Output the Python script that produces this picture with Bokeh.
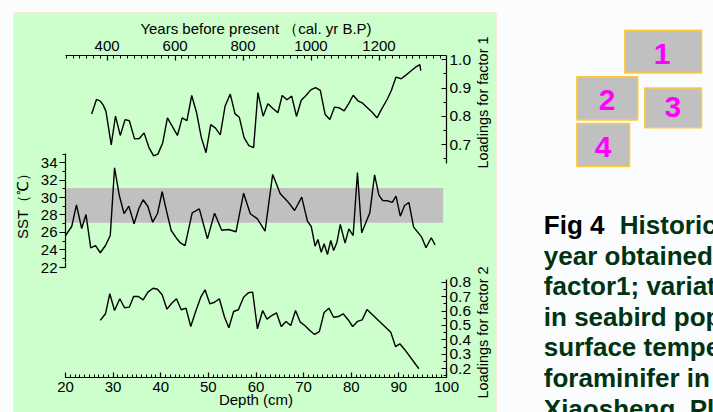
import math
from bokeh.plotting import figure
from bokeh.models import Range1d, LinearAxis, FixedTicker, PrintfTickFormatter, BoxAnnotation
from bokeh.layouts import row, column
from bokeh.embed import file_html
from bokeh.resources import INLINE
from bokeh.core.properties import value

# ---------------- data ----------------
f1_depth = [25.5, 26.5, 27.3, 27.9, 28.5, 29.6, 30.5, 31.5, 32.5, 33.4, 34.5, 35.5, 36.5, 37.5,
            38.5, 39.4, 40.4, 41.4, 42.4, 43.5, 44.5, 45.5, 46.5, 47.5, 48.5, 49.5, 50.5, 51.5,
            52.5, 53.5, 54.6, 55.6, 56.5, 57.5, 58.5, 59.5, 60.4, 61.5, 62.5, 63.5, 64.6, 65.5,
            66.5, 67.5, 68.5, 69.5, 70.5, 71.5, 72.5, 73.5, 74.5, 75.5, 76.5, 77.4, 78.5, 79.5,
            80.4, 81.5, 82.4, 83.5, 84.5, 85.4, 86.4, 87.5, 88.4, 89.4, 90.5, 91.4, 92.4, 93.5,
            94.4, 94.6]
f1_load = [0.809, 0.860, 0.854, 0.841, 0.818, 0.700, 0.801, 0.733, 0.789, 0.785, 0.721, 0.722,
           0.742, 0.691, 0.661, 0.667, 0.706, 0.795, 0.766, 0.733, 0.795, 0.785, 0.874, 0.815,
           0.727, 0.672, 0.771, 0.759, 0.735, 0.836, 0.879, 0.809, 0.797, 0.725, 0.697, 0.690,
           0.884, 0.801, 0.845, 0.829, 0.813, 0.874, 0.859, 0.872, 0.800, 0.857, 0.874, 0.894,
           0.902, 0.892, 0.808, 0.789, 0.833, 0.831, 0.820, 0.846, 0.875, 0.854, 0.847, 0.829,
           0.813, 0.795, 0.827, 0.859, 0.891, 0.939, 0.933, 0.945, 0.959, 0.974, 0.983, 0.962]

sst_depth = [20.0, 21.3, 22.3, 23.4, 24.3, 25.3, 26.3, 27.3, 28.4, 29.4, 30.3, 31.3, 32.3, 33.3,
             34.4, 35.4, 36.3, 37.3, 38.3, 39.3, 40.3, 41.3, 42.2, 43.3, 44.2, 45.1, 46.6, 48.1,
             49.8, 51.3, 52.8, 54.2, 55.8, 57.4, 58.8, 60.3, 61.9, 63.5, 65.1, 66.6, 68.1, 69.6,
             70.8, 71.6, 72.4, 73.0, 73.7, 74.3, 75.0, 75.7, 76.3, 77.0, 77.7, 78.7, 79.5, 80.4,
             81.3, 82.2, 83.9, 84.9, 85.8, 86.6, 87.7, 88.6, 89.4, 90.3, 91.2, 92.1, 93.1, 94.8,
             95.7, 96.8, 97.6]
sst_val = [25.64, 26.68, 29.17, 26.45, 28.06, 24.23, 24.49, 23.66, 24.49, 25.64, 33.43, 30.24,
           28.17, 29.01, 26.99, 28.75, 29.75, 28.98, 27.17, 28.14, 30.67, 28.25, 26.22, 25.33,
           24.76, 24.49, 28.25, 28.71, 25.26, 28.21, 26.25, 26.33, 26.07, 30.51, 28.14, 27.56,
           26.14, 32.66, 30.44, 29.59, 28.52, 30.05, 27.29, 26.68, 24.41, 25.18, 23.72, 24.69,
           23.46, 25.07, 23.92, 24.87, 26.91, 24.76, 26.41, 25.64, 32.89, 25.95, 28.25, 32.62,
           30.28, 29.67, 29.63, 29.44, 30.16, 27.86, 29.09, 29.44, 26.60, 25.45, 24.23, 25.38,
           24.57]
sst_band_low = 27.1
sst_band_high = 31.1

f2_depth = [27.3, 28.4, 29.3, 30.3, 31.4, 32.4, 33.4, 34.3, 35.3, 36.3, 37.3, 38.4, 39.3, 40.3,
            41.3, 42.3, 43.3, 44.3, 45.3, 46.3, 47.4, 48.4, 49.3, 50.3, 51.3, 52.3, 53.4, 54.3,
            55.3, 56.3, 57.4, 58.4, 59.3, 60.3, 61.4, 62.3, 63.3, 64.3, 65.3, 66.3, 67.3, 68.3,
            69.3, 70.3, 71.3, 72.3, 73.3, 74.3, 75.3, 76.3, 77.3, 78.3, 79.3, 80.3, 81.3, 82.3,
            83.3, 88.3, 89.3, 90.2, 91.2, 94.2]
f2_load = [0.535, 0.581, 0.720, 0.604, 0.685, 0.623, 0.627, 0.701, 0.701, 0.678, 0.731, 0.758,
           0.751, 0.713, 0.613, 0.654, 0.685, 0.609, 0.620, 0.493, 0.604, 0.696, 0.747, 0.650,
           0.661, 0.685, 0.557, 0.484, 0.597, 0.609, 0.696, 0.727, 0.731, 0.477, 0.604, 0.544,
           0.569, 0.588, 0.493, 0.528, 0.500, 0.604, 0.523, 0.498, 0.465, 0.438, 0.458, 0.590,
           0.620, 0.557, 0.562, 0.581, 0.542, 0.493, 0.528, 0.539, 0.611, 0.453, 0.354, 0.373,
           0.334, 0.200]

year_ticks = [400, 600, 800, 1000, 1200]
year_minor = list(range(280, 1400, 20))
depth_ticks = [20, 30, 40, 50, 60, 70, 80, 90, 100]
depth_minor = list(range(20, 101))
sst_ticks = [22, 24, 26, 28, 30, 32, 34]
sst_minor = list(range(22, 36))
f1_ticks = [0.7, 0.8, 0.9, 1.0]
f1_minor = [0.65, 0.7, 0.75, 0.8, 0.85, 0.9, 0.95, 1.0]
f2_ticks = [0.2, 0.3, 0.4, 0.5, 0.6, 0.7, 0.8]
f2_minor = [0.15, 0.2, 0.25, 0.3, 0.35, 0.4, 0.45, 0.5, 0.55, 0.6, 0.65, 0.7, 0.75, 0.8]

title_top = "Years before present （cal. yr B.P)"
title_bottom = "Depth (cm)"
title_sst = "SST（℃）"
title_f1 = "Loadings for factor 1"
title_f2 = "Loadings for factor 2"

box_labels = ["1", "2", "3", "4"]
caption_lines = ["year obtained", "factor1; variat", "in seabird pop", "surface tempe",
                 "foraminifer in", "Xiaosheng, Pl"]

# ---------------- styles ----------------
GREEN = "#CCFFCC"
PEACH = "#FFD3A6"
BG = "#FAFCFE"
FONT = "Liberation Sans"
H = 412          # page height in px; side panel uses y = H - page_y
PR_DY = 10       # measured downward drift of the right-hand panel's content
NUM_DY = 11      # extra measured drift of the large centred digits


def base_fig(w, h, **kw):
    opts = dict(width=w, height=h, title=None, toolbar_location=None, output_backend="svg",
                x_axis_location=None, y_axis_location=None, outline_line_color=None,
                min_border_left=0, min_border_right=0, min_border_top=0, min_border_bottom=0,
                align="start")
    opts.update(kw)
    f = figure(**opts)
    f.grid.visible = False
    return f


def strip(w, h, top=0, left=0):
    return base_fig(w, h, min_border_top=top, min_border_left=left,
                    background_fill_color=PEACH, border_fill_color=BG,
                    x_range=Range1d(0, 1), y_range=Range1d(0, 1))


def green_fig(w, h, xr, yr):
    return base_fig(w, h, x_range=Range1d(*xr), y_range=Range1d(*yr),
                    background_fill_color=GREEN, border_fill_color=GREEN)


def style_axis(ax, ticks, minor, tin, tout, mtin, mtout, size="15px"):
    ax.ticker = FixedTicker(ticks=ticks, minor_ticks=minor)
    ax.major_tick_in = tin
    ax.major_tick_out = tout
    ax.minor_tick_in = mtin
    ax.minor_tick_out = mtout
    ax.axis_line_width = 1.2
    ax.major_tick_line_width = 1.2
    ax.minor_tick_line_width = 1.0
    ax.axis_line_color = "black"
    ax.major_tick_line_color = "black"
    ax.minor_tick_line_color = "black"
    ax.major_label_text_font = FONT
    ax.major_label_text_font_size = size
    ax.major_label_text_color = "black"
    ax.axis_label_text_font = FONT
    ax.axis_label_text_font_size = "15px"
    ax.axis_label_text_font_style = "normal"
    ax.axis_label_text_color = "black"


def put_text(p, x, y, txt, angle=0.0, size="15px", baseline="middle"):
    p.text(x=[x], y=[y], text=[txt], angle=angle, text_font=value(FONT),
           text_font_size=size, text_color="black", text_align="center",
           text_baseline=baseline)


depth_range = Range1d(20, 100)

# ---------------- upper panel: factor 1 + SST ----------------
pa = base_fig(443, 249, x_range=depth_range, y_range=Range1d(22.540, 46.333),
              min_border_left=34, min_border_right=27, min_border_top=42, min_border_bottom=0,
              background_fill_color=GREEN, border_fill_color=GREEN)
pa.extra_x_ranges = {"years": Range1d(277.6, 1398.6)}
pa.extra_y_ranges = {"f1": Range1d(0.2845, 1.0152)}

ax_top = LinearAxis(x_range_name="years", axis_label=title_top)
style_axis(ax_top, year_ticks, year_minor, 5, 0, 3, 0)
ax_top.major_label_standoff = 5
ax_top.axis_label_standoff = 1
pa.add_layout(ax_top, "above")

ax_sst = LinearAxis(bounds=(22, 35.1))
style_axis(ax_sst, sst_ticks, sst_minor, 0, 6, 0, 3)
ax_sst.major_label_standoff = 2
pa.add_layout(ax_sst, "left")

ax_f1 = LinearAxis(y_range_name="f1", bounds=(0.633, 1.0152))
style_axis(ax_f1, f1_ticks, f1_minor, 5, 0, 3, 0, size="15.5px")
ax_f1.formatter = PrintfTickFormatter(format="%.1f")
ax_f1.major_label_standoff = 3
pa.add_layout(ax_f1, "right")

pa.add_layout(BoxAnnotation(bottom=sst_band_low, top=sst_band_high, left=20, right=99.3,
                            fill_color="#C0C0C0", fill_alpha=1, line_color=None, level="underlay"))
pa.line(f1_depth, f1_load, y_range_name="f1", line_color="black", line_width=1.4)
pa.line(sst_depth, sst_val, line_color="black", line_width=1.4)

# ---------------- lower panel: factor 2 ----------------
pb = base_fig(443, 150, x_range=depth_range, y_range=Range1d(0.1396, 0.9365),
              min_border_left=34, min_border_right=27, min_border_top=0, min_border_bottom=35,
              background_fill_color=GREEN, border_fill_color=GREEN)
pb.extra_y_ranges = {"sst": Range1d(9.322, 22.540)}

ax_bot = LinearAxis(axis_label=title_bottom)
style_axis(ax_bot, depth_ticks, depth_minor, 5, 0, 3, 0)
ax_bot.major_label_standoff = 4
ax_bot.axis_label_standoff = -4
pb.add_layout(ax_bot, "below")

ax_sst_end = LinearAxis(y_range_name="sst", bounds=(22, 22.6))
style_axis(ax_sst_end, [22], [], 0, 6, 0, 3)
ax_sst_end.major_label_standoff = 2
pb.add_layout(ax_sst_end, "left")

ax_f2 = LinearAxis(bounds=(0.14, 0.817))
style_axis(ax_f2, f2_ticks, f2_minor, 5, 0, 3, 0, size="15.5px")
ax_f2.formatter = PrintfTickFormatter(format="%.1f")
ax_f2.major_label_standoff = 3
pb.add_layout(ax_f2, "right")

pb.line(f2_depth, f2_load, line_color="black", line_width=1.4)

# ---------------- side titles (own thin panels, page-pixel ranges) ----------------
t_left = green_fig(17, 399, (14, 31), (0, 399))
put_text(t_left, 22, 210, title_sst, angle=math.pi / 2)
t_right = green_fig(22, 399, (474, 496), (0, 399))
put_text(t_right, 482, 310, title_f1, angle=math.pi / 2, size="14.5px")
put_text(t_right, 482, 80, title_f2, angle=math.pi / 2, size="14.5px")

# ---------------- right side: boxes + caption (x = page_x - 497, y = H - page_y) ----------------
def ry(page_y, extra=0):
    return H - (page_y - PR_DY - extra)


pr = base_fig(216, 412, x_range=Range1d(0, 216), y_range=Range1d(0, 412),
              background_fill_color=BG, border_fill_color=BG)
box_top = [28.3, 76.3, 87.7, 124.3]
box_bot = [72.3, 120.7, 128.7, 168.7]
pr.quad(left=[127.3, 79.3, 147.3, 79.3], right=[204, 140.3, 204, 132],
        top=[ry(v) for v in box_top], bottom=[ry(v) for v in box_bot],
        fill_color="#C0C0C0", line_color="#FFCC33", line_width=1.5)
num_base = [63.3, 111, 118.3, 159.3]
pr.text(x=[164.7, 109.7, 175.3, 105.7], y=[ry(v, NUM_DY) for v in num_base], text=box_labels,
        text_font=value(FONT), text_font_style="bold", text_font_size="30px",
        text_color="#FF00FF", text_align="center", text_baseline="alphabetic")
pr.text(x=[46.3], y=[ry(229)], text=["Fig 4"], text_font=value(FONT), text_font_style="bold",
        text_font_size="26px", text_color="black", text_baseline="alphabetic")
pr.text(x=[122.3], y=[ry(229)], text=["Historic"], text_font=value(FONT),
        text_font_style="bold", text_font_size="26px", text_color="#003311",
        text_baseline="alphabetic")
cap_base = [260.7, 291.7, 323.3, 355, 386.7, 418.5]
pr.text(x=[46.3] * 6, y=[ry(v) for v in cap_base], text=caption_lines,
        text_font=value(FONT), text_font_style="bold", text_font_size="26px",
        text_color="#003311", text_baseline="alphabetic")

panel_mid = column(pa, pb, align="start", styles={"background-color": GREEN})
panel = row(t_left, panel_mid, t_right, align="start", styles={"background-color": GREEN})
layout = row(strip(14, 412, top=12, left=13),
             column(strip(482, 13, top=12), panel, align="start"),
             strip(1, 412, top=12),
             pr, align="start")

open("out.html", "w").write(file_html(layout, INLINE))
